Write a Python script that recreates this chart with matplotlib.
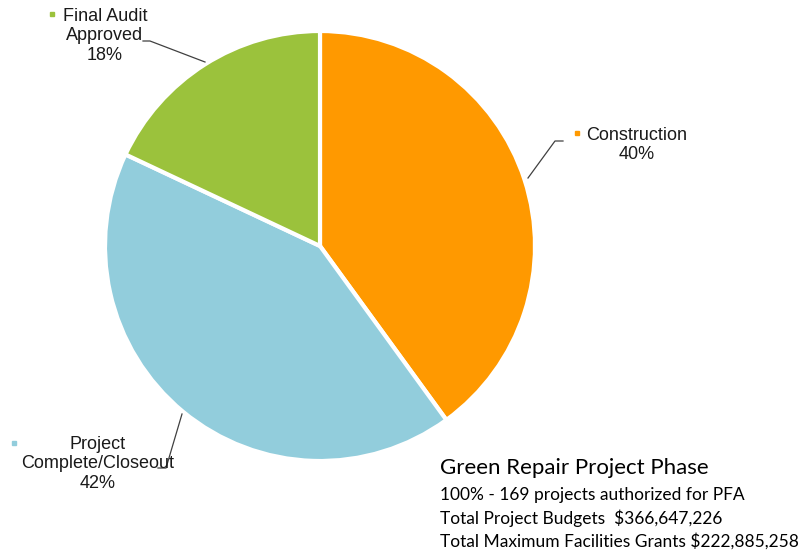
import matplotlib.pyplot as plt

# dados do gráfico
fases = ['Construction', 'Project\nComplete/Closeout', 'Final Audit\nApproved']
percentuais = [40, 42, 18]
cores = ['#FF9900', '#92CDDC', '#9BC23C']
resumo_titulo = 'Green Repair Project Phase'
resumo_linhas = ['100% - 169 projects authorized for PFA',
                 'Total Project Budgets  $366,647,226',
                 'Total Maximum Facilities Grants $222,885,258']

W, H = 802, 552
fig = plt.figure(figsize=(W / 100, H / 100), dpi=100)
ax = fig.add_axes([0, 0, 1, 1])

def py(y):
    # converte coordenada de pixel (topo) para dado (base)
    return H - y

ax.pie(percentuais, colors=cores, startangle=90, counterclock=False,
       center=(320, py(246)), radius=215, frame=True,
       wedgeprops=dict(edgecolor='white', linewidth=3))
ax.set_xlim(0, W)
ax.set_ylim(0, H)
ax.set_aspect('auto')
ax.axis('off')

fonte = ['Liberation Sans', 'DejaVu Sans']

# rótulos com linhas de chamada
rotulos = [
    # texto, centro x, centro y, marcador x, marcador y, linha
    (fases[0] + f'\n{percentuais[0]}%', 637, 145, 577, 133, [(528, 178), (555, 141), (563, 141)]),
    (fases[1] + f'\n{percentuais[1]}%', 98, 464, 14, 443, [(182, 414), (166, 468), (158, 468)]),
    (fases[2] + f'\n{percentuais[2]}%', 105, 36, 52, 14, [(205, 62), (150, 41), (143, 41)]),
]
for (txt, cx, cy, mx, my, linha), cor in zip(rotulos, cores):
    ax.text(cx, py(cy), txt, ha='center', va='center', fontsize=13,
            family=fonte, linespacing=1.16, color='#1a1a1a')
    ax.plot([mx], [py(my)], marker='s', markersize=3.5, color=cor, linestyle='none')
    xs = [p[0] for p in linha]
    ys = [py(p[1]) for p in linha]
    ax.plot(xs, ys, color='#404040', linewidth=0.9)

ax.text(440, py(468), resumo_titulo, ha='left', va='center', fontsize=16,
        family=['Lato', 'DejaVu Sans'], color='black')
for i, linha in enumerate(resumo_linhas):
    ax.text(440, py(495 + i * 23), linha, ha='left', va='center', fontsize=12.5,
            family=['Lato', 'DejaVu Sans'], color='black')

fig.savefig('out.png', dpi=100)
